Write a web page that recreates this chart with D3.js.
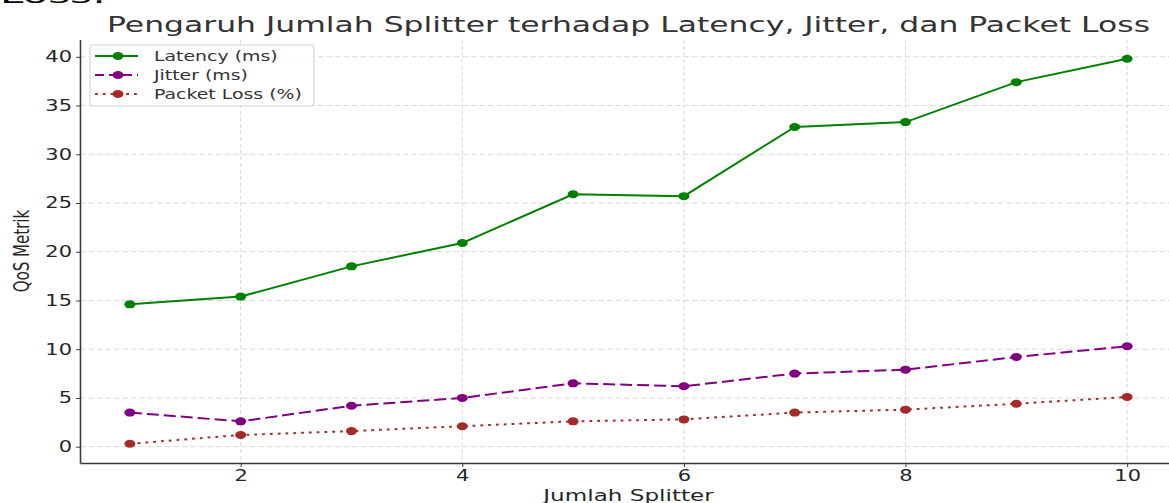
<!DOCTYPE html>
<html>
<head>
<meta charset="utf-8">
<script src="https://cdn.jsdelivr.net/npm/d3@7"></script>
<style>
  body { margin: 0; background: #fff; }
  svg { display: block; }
  text { font-family: "DejaVu Sans", sans-serif; }
</style>
</head>
<body>
<script>
const width = 1169;
const height = 503;

// data
const splitter = [1, 2, 3, 4, 5, 6, 7, 8, 9, 10];
const latency = [14.6, 15.4, 18.5, 20.9, 25.9, 25.7, 32.8, 33.3, 37.4, 39.8];
const jitter = [3.5, 2.6, 4.2, 5.0, 6.5, 6.2, 7.5, 7.9, 9.2, 10.3];
const packetLoss = [0.3, 1.2, 1.6, 2.1, 2.6, 2.8, 3.5, 3.8, 4.4, 5.1];
const xTicks = [2, 4, 6, 8, 10];
const yTicks = [0, 5, 10, 15, 20, 25, 30, 35, 40];
const seriesNames = ["Latency (ms)", "Jitter (ms)", "Packet Loss (%)"];

const series = [
    { name: seriesNames[0], values: latency, color: "green", dash: null },
    { name: seriesNames[1], values: jitter, color: "purple", dash: "12,5" },
    { name: seriesNames[2], values: packetLoss, color: "brown", dash: "2.8,5" }
];

const stretch = 1.4; // the picture is stretched sideways
const plotLeft = 80, plotRight = 1177, plotTop = 39.5, plotBottom = 463;

const svg = d3.select("body").append("svg")
    .attr("width", width)
    .attr("height", height);

const x = d3.scaleLinear().domain([0.55, 10.45]).range([plotLeft, plotRight]);
const y = d3.scaleLinear().domain([-1.675, 41.775]).range([plotBottom, plotTop]);

// cut-off text from the page above the chart
svg.append("text")
    .attr("x", 0).attr("y", 3)
    .attr("font-size", 22)
    .attr("font-family", "Liberation Sans")
    .attr("fill", "#000")
    .attr("textLength", 106)
    .attr("lengthAdjust", "spacingAndGlyphs")
    .text("Loss:");

// grid
svg.append("g").selectAll("line")
    .data(yTicks).enter().append("line")
    .attr("x1", plotLeft).attr("x2", plotRight)
    .attr("y1", d => y(d)).attr("y2", d => y(d))
    .attr("stroke", "#d4d4d4").attr("stroke-width", 0.9)
    .attr("stroke-dasharray", "5.5,3");

svg.append("g").selectAll("line")
    .data(xTicks).enter().append("line")
    .attr("x1", d => x(d)).attr("x2", d => x(d))
    .attr("y1", plotTop).attr("y2", plotBottom)
    .attr("stroke", "#d4d4d4").attr("stroke-width", 0.9)
    .attr("stroke-dasharray", "4,2.5");

// axes
const xAxis = svg.append("g")
    .attr("transform", `translate(0,${plotBottom})`)
    .call(d3.axisBottom(x).tickValues(xTicks).tickSize(4).tickSizeOuter(0).tickPadding(3));
const yAxis = svg.append("g")
    .attr("transform", `translate(${plotLeft},0)`)
    .call(d3.axisLeft(y).tickValues(yTicks).tickSize(4).tickSizeOuter(0));

[xAxis, yAxis].forEach(g => {
    g.select(".domain").attr("stroke", "#3a3a3a").attr("stroke-width", 1.6);
    g.selectAll(".tick line").attr("stroke", "#3a3a3a").attr("stroke-width", 1);
    g.selectAll(".tick text")
        .attr("font-size", 15)
        .attr("fill", "#262626")
        .attr("font-family", "DejaVu Sans")
        .attr("transform", `scale(${stretch},1)`);
});
yAxis.selectAll(".tick text").attr("x", -8 / stretch);

// lines + markers
const line = d3.line()
    .x((d, i) => x(splitter[i]))
    .y(d => y(d));

series.forEach(s => {
    svg.append("path")
        .datum(s.values)
        .attr("fill", "none")
        .attr("stroke", s.color)
        .attr("stroke-width", 2)
        .attr("stroke-dasharray", s.dash)
        .attr("d", line);
    svg.append("g").selectAll("ellipse")
        .data(s.values).enter().append("ellipse")
        .attr("cx", (d, i) => x(splitter[i]))
        .attr("cy", d => y(d))
        .attr("rx", 5.5).attr("ry", 4)
        .attr("fill", s.color);
});

// title
svg.append("text")
    .attr("x", (plotLeft + plotRight) / 2).attr("y", 32)
    .attr("text-anchor", "middle")
    .attr("font-size", 21)
    .attr("fill", "#333")
    .attr("textLength", 1043)
    .attr("lengthAdjust", "spacingAndGlyphs")
    .text("Pengaruh Jumlah Splitter terhadap Latency, Jitter, dan Packet Loss");

// axis labels
svg.append("text")
    .attr("transform", `translate(${(plotLeft + plotRight) / 2},501) scale(${stretch},1)`)
    .attr("text-anchor", "middle")
    .attr("font-size", 16.5)
    .attr("fill", "#262626")
    .text("Jumlah Splitter");

svg.append("text")
    .attr("transform", `translate(29,251) scale(${stretch},1) rotate(-90)`)
    .attr("text-anchor", "middle")
    .attr("font-size", 15)
    .attr("fill", "#262626")
    .text("QoS Metrik");

// legend
const legend = svg.append("g").attr("transform", "translate(90,45)");
legend.append("rect")
    .attr("width", 224).attr("height", 61)
    .attr("rx", 3)
    .attr("fill", "#fff").attr("fill-opacity", 0.85)
    .attr("stroke", "#d0d0d0").attr("stroke-width", 1);

const item = legend.selectAll(".item")
    .data(series).enter().append("g")
    .attr("transform", (d, i) => `translate(0,${11 + i * 19})`);
item.append("line")
    .attr("x1", 5).attr("x2", 48)
    .attr("stroke", d => d.color)
    .attr("stroke-width", 2)
    .attr("stroke-dasharray", (d, i) => i === 1 ? "9,5" : d.dash);
item.append("ellipse")
    .attr("cx", 28).attr("rx", 5.5).attr("ry", 4)
    .attr("fill", d => d.color);
item.append("text")
    .attr("transform", `translate(64,0) scale(${stretch},1)`)
    .attr("dy", "0.36em")
    .attr("font-size", 13.5)
    .attr("fill", "#333")
    .text(d => d.name);
</script>
</body>
</html>
